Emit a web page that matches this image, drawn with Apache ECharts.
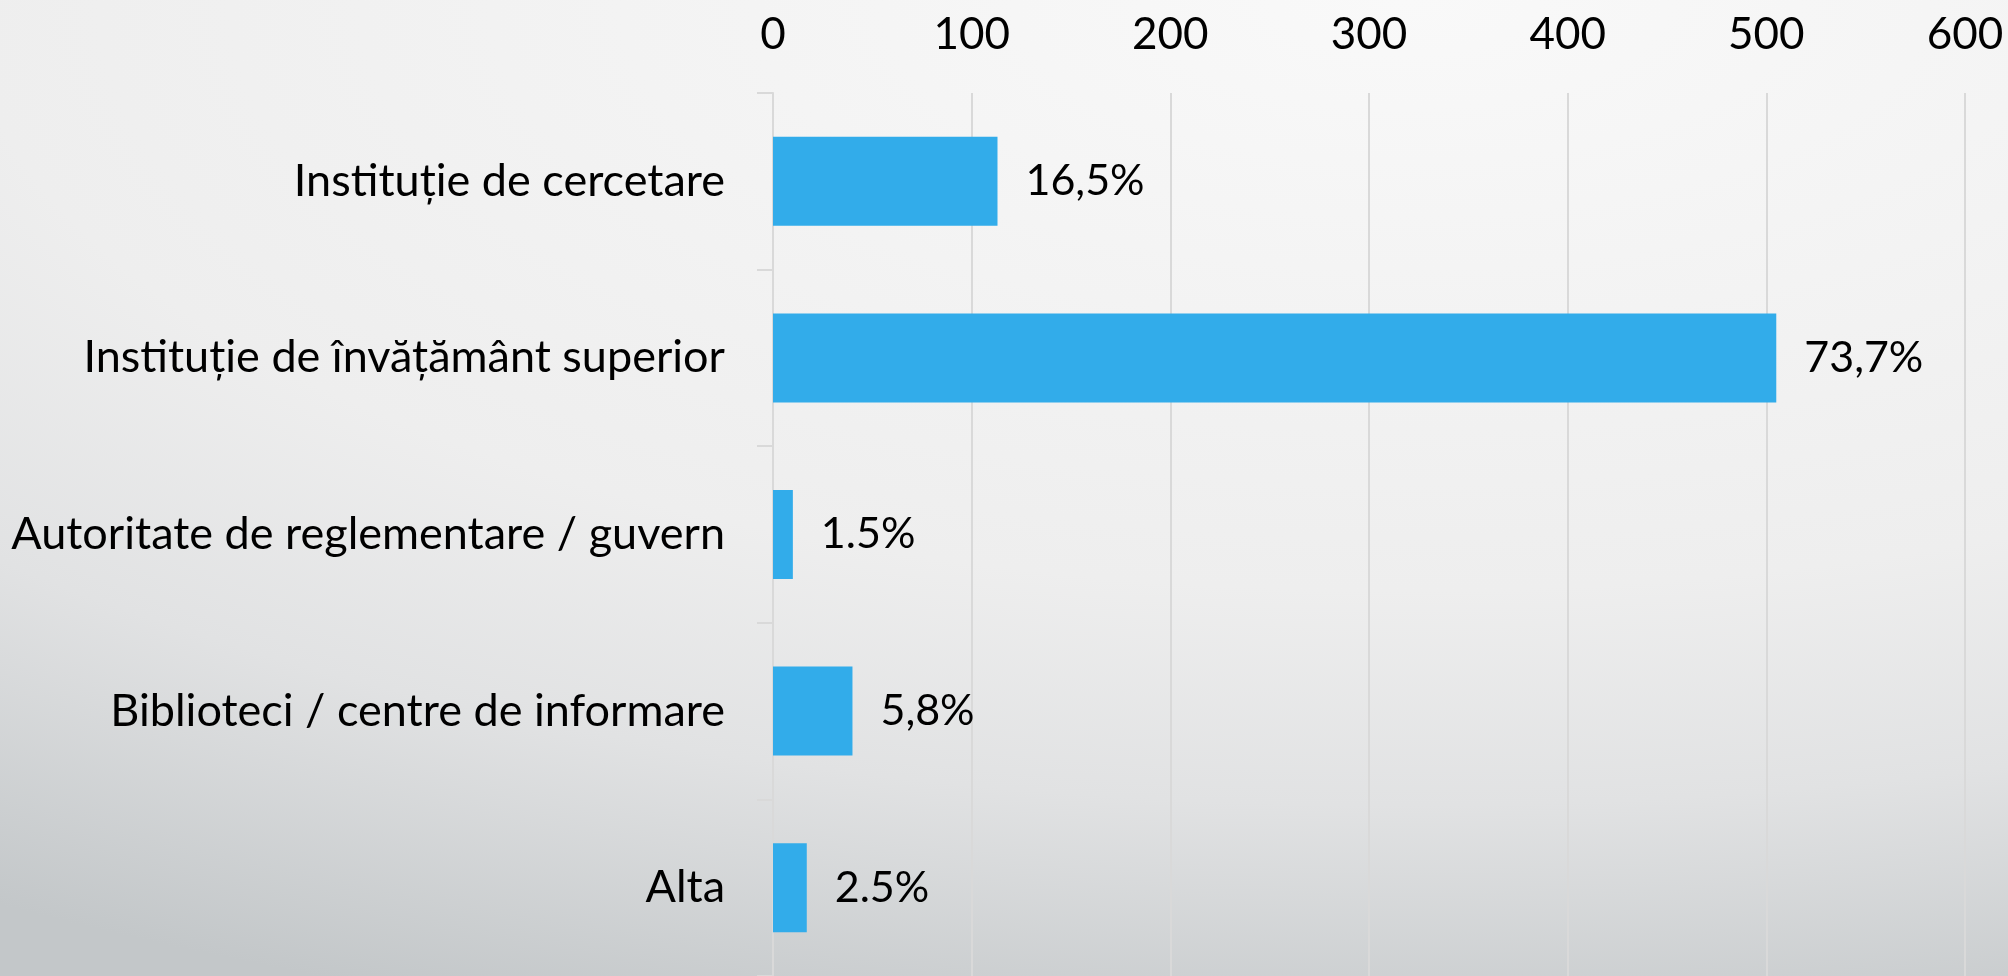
<!DOCTYPE html>
<html>
<head>
<meta charset="utf-8">
<style>
  html, body { margin: 0; padding: 0; }
  #chart {
    width: 2008px;
    height: 976px;
    background: radial-gradient(ellipse 130% 110% at 70% 0%, #f9f9f9 0%, #eeeeee 55%, #e1e2e3 75%, #c3c7c9 100%);
  }
</style>
<script src="https://cdn.jsdelivr.net/npm/echarts@6/dist/echarts.min.js"></script>
</head>
<body>
<div id="chart"></div>
<script>
const categories = [
  'Instituție de cercetare',
  'Instituție de învățământ superior',
  'Autoritate de reglementare / guvern',
  'Biblioteci / centre de informare',
  'Alta'
]
const counts = [113, 505, 10, 40, 17]
const pctLabels = ['16,5%', '73,7%', '1.5%', '5,8%', '2.5%']
const xTicks = [0, 100, 200, 300, 400, 500, 600]

const font = 'Lato, "Open Sans", sans-serif'
const chart = echarts.init(document.getElementById('chart'))

chart.setOption({
  backgroundColor: 'transparent',
  animation: false,
  grid: {
    left: 773,
    right: 43,
    top: 93,
    height: 885
  },
  xAxis: {
    type: 'value',
    position: 'top',
    min: xTicks[0],
    max: xTicks[xTicks.length - 1],
    interval: 100,
    axisLine: { show: false },
    axisTick: { show: false },
    splitLine: { lineStyle: { color: '#d9d9d9', width: 2 } },
    axisLabel: {
      color: '#000',
      fontFamily: font,
      fontSize: 44,
      margin: 36
    }
  },
  yAxis: {
    type: 'category',
    inverse: true,
    data: categories,
    axisLine: { show: true, lineStyle: { color: '#d9d9d9', width: 2 } },
    axisTick: { show: true, length: 16, lineStyle: { color: '#d9d9d9', width: 2 } },
    axisLabel: {
      color: '#000',
      fontFamily: font,
      fontSize: 45,
      margin: 48
    }
  },
  series: [
    {
      type: 'bar',
      data: counts,
      barWidth: 89,
      itemStyle: { color: '#32acea' },
      label: {
        show: true,
        position: 'right',
        distance: 28,
        color: '#000',
        fontFamily: font,
        fontSize: 43,
        formatter: p => pctLabels[p.dataIndex]
      }
    }
  ]
})
</script>
</body>
</html>
